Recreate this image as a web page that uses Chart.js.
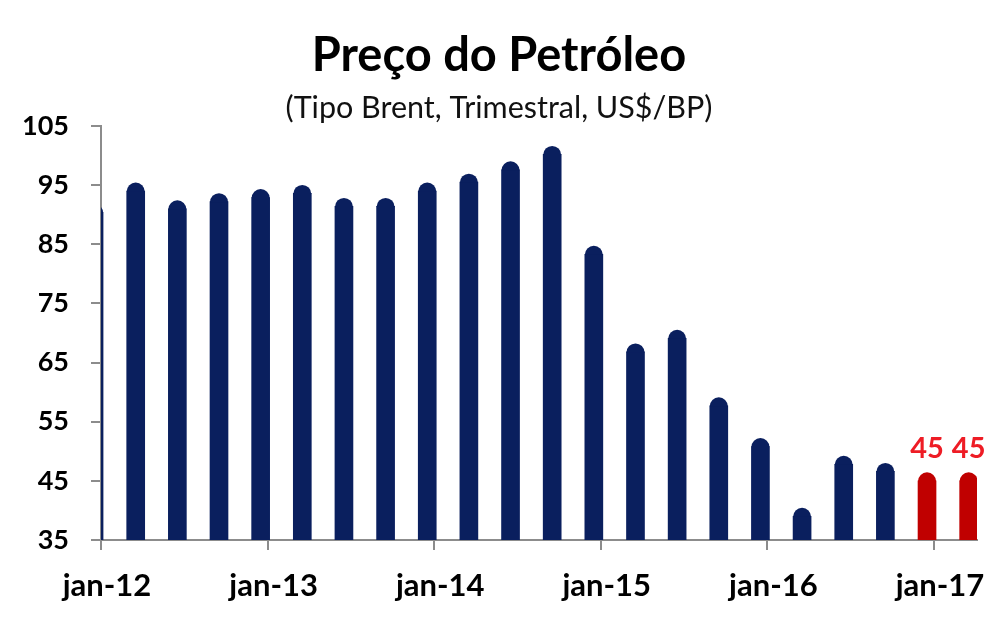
<!DOCTYPE html>
<html>
<head>
<meta charset="utf-8">
<script src="https://cdn.jsdelivr.net/npm/chart.js@4.4.1/dist/chart.umd.min.js"></script>
<style>
  body { margin: 0; background: #fff; }
  #wrap { width: 1007px; height: 625px; position: relative; }
</style>
</head>
<body>
<div id="wrap"><canvas id="oil-price"></canvas></div>
<script>
// Brent oil price, quarterly (US$/BP)
var histQuarters = ['4T11', '1T12', '2T12', '3T12', '4T12', '1T13', '2T13', '3T13', '4T13', '1T14',
  '2T14', '3T14', '4T14', '1T15', '2T15', '3T15', '4T15', '1T16', '2T16', '3T16'];
var histValues = [90.4, 94.0, 91.0, 92.2, 92.9, 93.6, 91.4, 91.4, 94.0, 95.5,
  97.6, 100.2, 83.3, 66.8, 69.1, 57.7, 50.8, 39.0, 47.8, 46.6];
var forecastQuarters = ['4T16', '1T17'];
var forecastValues = [45, 45];

var yearTicks = [0, 12, 24, 36, 48, 60]; // months from jan-12
var yearLabels = ['jan-12', 'jan-13', 'jan-14', 'jan-15', 'jan-16', 'jan-17'];

// quarter label -> months after jan-12 (middle of the quarter's last month)
function quarterPos(q) {
  var n = parseInt(q.charAt(0), 10);
  var yr = 2000 + parseInt(q.slice(2), 10);
  return (yr - 2012) * 12 + n * 3 - 0.5;
}
function points(quarters, values) {
  return quarters.map(function (q, i) { return { x: quarterPos(q), y: values[i] }; });
}

var navy = '#0a1f5e';
var darkRed = '#c00000';
var axisGrey = '#8c8c8c';

// round caps on top of the bars + value labels for the forecast
var roundCaps = {
  id: 'roundCaps',
  afterDatasetDraw: function (chart, args) {
    var ctx = chart.ctx, area = chart.chartArea;
    ctx.save();
    ctx.beginPath();
    ctx.rect(area.left, area.top - 30, area.right - area.left, area.bottom - area.top + 30);
    ctx.clip();
    ctx.fillStyle = chart.data.datasets[args.index].backgroundColor;
    args.meta.data.forEach(function (bar) {
      ctx.beginPath();
      ctx.arc(bar.x, bar.y + 0.5, bar.width / 2, Math.PI, 0);
      ctx.fill();
    });
    ctx.restore();
  },
  afterDatasetsDraw: function (chart) {
    var ctx = chart.ctx;
    var meta = chart.getDatasetMeta(1);
    ctx.save();
    ctx.font = 'bold 29px Lato';
    ctx.fillStyle = '#ee1c25';
    ctx.textAlign = 'center';
    ctx.textBaseline = 'alphabetic';
    meta.data.forEach(function (bar, i) {
      ctx.fillText(String(forecastValues[i]), bar.x, bar.y - bar.width / 2 - 14);
    });
    ctx.restore();
  }
};

var ctx = document.getElementById('oil-price').getContext('2d');
var oilChart = new Chart(ctx, {
  type: 'bar',
  data: {
    datasets: [
      {
        label: 'Brent',
        data: points(histQuarters, histValues),
        backgroundColor: navy,
      },
      {
        label: 'Previsão',
        data: points(forecastQuarters, forecastValues),
        backgroundColor: darkRed,
      },
    ],
  },
  plugins: [roundCaps],
  options: {
    responsive: true,
    maintainAspectRatio: false,
    animation: false,
    grouped: false,
    barThickness: 18,
    layout: { padding: { left: 21, right: 30, top: 0, bottom: 0 } },
    plugins: {
      legend: { display: false },
      tooltip: { enabled: false },
      title: {
        display: true,
        text: 'Preço do Petróleo',
        color: '#000',
        font: { family: 'Lato', size: 47, weight: 'bold' },
        padding: { top: 28, bottom: 0 },
      },
      subtitle: {
        display: true,
        text: '(Tipo Brent, Trimestral, US$/BP)',
        color: '#111',
        font: { family: 'Lato', size: 30.5, weight: 'normal' },
        padding: { top: 5, bottom: 0 },
      },
    },
    scales: {
      x: {
        type: 'linear',
        min: 0,
        max: 63.1,
        offset: false,
        afterBuildTicks: function (s) {
          s.ticks = yearTicks.map(function (v) { return { value: v }; });
        },
        afterFit: function (s) { s.height = 85; },
        ticks: {
          autoSkip: false,
          maxRotation: 0,
          labelOffset: 6,
          padding: 17,
          color: '#000',
          font: { family: 'Lato', size: 31, weight: 'bold' },
          callback: function (v, i) { return yearLabels[i]; },
        },
        grid: { drawOnChartArea: false, drawTicks: true, tickLength: 10, color: axisGrey, lineWidth: 2, offset: false },
        border: { color: axisGrey, width: 2 },
      },
      y: {
        min: 35,
        max: 105,
        afterFit: function (s) { s.width = 80; },
        ticks: {
          stepSize: 10,
          padding: 22,
          color: '#000',
          font: { family: 'Lato', size: 27, weight: 'bold' },
        },
        grid: { drawOnChartArea: false, drawTicks: true, tickLength: 10, color: axisGrey, lineWidth: 2 },
        border: { color: axisGrey, width: 2 },
      },
    },
  },
});
</script>
</body>
</html>
